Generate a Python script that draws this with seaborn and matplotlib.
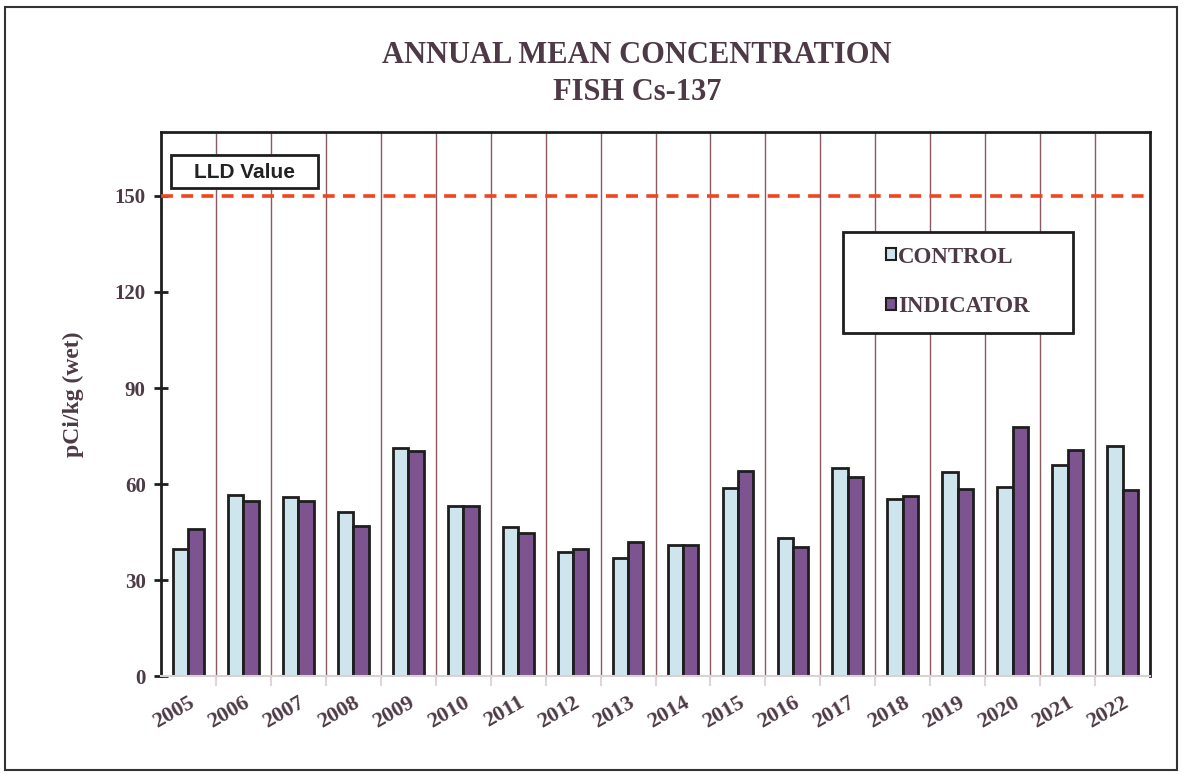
import matplotlib
matplotlib.use("Agg")
import matplotlib.pyplot as plt
import seaborn as sns
import pandas as pd
from matplotlib.patches import Rectangle, Patch

years = [str(y) for y in range(2005, 2023)]
control = [39.8, 56.7, 55.8, 51.1, 71.1, 53.0, 46.7, 38.9, 36.8, 41.1,
           58.9, 43.0, 65.1, 55.2, 63.6, 59.0, 65.8, 71.9]
indicator = [45.8, 54.8, 54.7, 46.8, 70.4, 53.0, 44.8, 39.7, 41.9, 41.1,
             64.1, 40.3, 62.1, 56.1, 58.3, 77.9, 70.7, 58.2]
series_names = ["CONTROL", "INDICATOR"]
lld_value = 150
y_ticks = [0, 30, 60, 90, 120, 150]

df = pd.DataFrame({
    "year": years * 2,
    "value": control + indicator,
    "group": [series_names[0]] * len(years) + [series_names[1]] * len(years),
})

sns.set_theme(style="white")
plt.rcParams["font.family"] = ["Liberation Serif", "DejaVu Serif"]

text_col = "#4e3a46"
ctrl_col = "#cfe5ee"
ind_col = "#7d5390"
dark = "#1e1e1e"

fig = plt.figure(figsize=(11.82, 7.75), dpi=100)
ax = fig.add_axes([0.1362, 0.1277, 0.973 - 0.1362, 0.8297 - 0.1277])

sns.barplot(data=df, x="year", y="value", hue="group", order=years,
            hue_order=series_names, palette=[ctrl_col, ind_col],
            width=0.56, gap=0, edgecolor=dark, linewidth=2.0,
            saturation=1, ax=ax, legend=False)

ax.set_xlim(-0.5, len(years) - 0.5)
ax.set_ylim(0, 170)
ax.set_yticks(y_ticks)
ax.set_yticklabels([str(t) for t in y_ticks], fontsize=15, fontweight="bold",
                   color=text_col)

for k in range(1, len(years)):
    ax.axvline(k - 0.5, color="#8a5a62", lw=1.0, zorder=0)

ax.axhline(lld_value, color="#f0451f", lw=2.6, ls=(0, (3.3, 2.3)), zorder=3)

ax.set_xticks(range(len(years)))
ax.set_xticklabels(years, rotation=30, ha="right", rotation_mode="anchor",
                   fontsize=16, fontweight="bold", color=text_col)
ax.set_xticks([k - 0.5 for k in range(1, len(years))], minor=True)
ax.tick_params(axis="x", which="major", length=0, pad=12)
ax.tick_params(axis="x", which="minor", length=7, width=1.5,
               color="#ddd6d6", direction="out", bottom=True)
ax.tick_params(axis="y", direction="inout", length=10, width=2,
               color=dark, pad=6, left=True)
ax.set_xlabel("")
ax.set_ylabel("pCi/kg (wet)", fontsize=17, fontweight="bold", color=text_col)
ax.yaxis.set_label_coords(-0.078, 0.518)

for side in ["left", "top", "right"]:
    ax.spines[side].set_color(dark)
    ax.spines[side].set_linewidth(2)
ax.spines["bottom"].set_color("#d8d2d2")
ax.spines["bottom"].set_linewidth(1.5)

# LLD Value label box
ax.add_patch(Rectangle((0.0101, 0.897), 0.1486, 0.0607, transform=ax.transAxes,
                       fc="white", ec=dark, lw=2, zorder=5))
ax.text(0.0844, 0.926, "LLD Value", transform=ax.transAxes,
        fontsize=15, fontweight="bold", family="Liberation Sans",
        color="#222222", ha="center", va="center", zorder=6)

# legend box + entries
ax.add_patch(Rectangle((0.6896, 0.63), 0.2326, 0.186, transform=ax.transAxes,
                       fc="white", ec=dark, lw=2, zorder=5))
handles = [Patch(facecolor=ctrl_col, edgecolor=dark, lw=1.5),
           Patch(facecolor=ind_col, edgecolor=dark, lw=1.5)]
leg = ax.legend(handles, series_names, loc="center left",
                bbox_to_anchor=(0.733, 0.7245), frameon=False,
                prop={"family": "Liberation Serif", "weight": "bold",
                      "size": 16.5},
                labelcolor=text_col, handlelength=0.42, handleheight=0.42,
                handletextpad=0.12, labelspacing=1.25, borderpad=0,
                borderaxespad=0)
leg.set_zorder(7)

fig.text(0.539, 0.929, "ANNUAL MEAN CONCENTRATION", ha="center", va="center",
         fontsize=22, fontweight="bold", color=text_col)
fig.text(0.539, 0.880, "FISH Cs-137", ha="center", va="center",
         fontsize=22, fontweight="bold", color=text_col)

fig.patches.append(Rectangle((0.004, 0.006), 0.992, 0.985,
                             transform=fig.transFigure, fill=False,
                             ec="#333333", lw=1.5))

fig.savefig("out.png", dpi=100)
